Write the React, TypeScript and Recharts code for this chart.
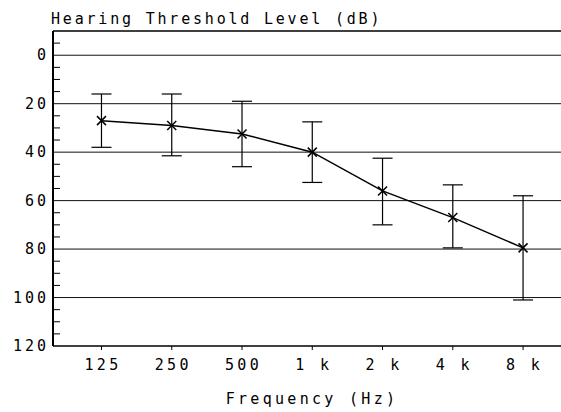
import React from 'react';
import { LineChart, Line, XAxis, YAxis, ErrorBar, ReferenceLine } from 'recharts';

const freqLabels = ['125', '250', '500', '1 k', '2 k', '4 k', '8 k'];
const meanDb = [27, 29, 32.5, 40, 56, 67, 79.5];
const upperDb = [16, 16, 19, 27.5, 42.5, 53.5, 58];
const lowerDb = [38, 41.5, 46, 52.5, 70, 79.5, 101];
const xTicks = [0, 1, 2, 3, 4, 5, 6];
const yTicks = [-10, -5, 0, 5, 10, 15, 20, 25, 30, 35, 40, 45, 50, 55, 60, 65, 70, 75, 80, 85, 90, 95, 100, 105, 110, 115, 120];
const gridLevels = [0, 20, 40, 60, 80, 100];
const topLevel = -10;

const data = freqLabels.map((f, i) => ({
  idx: i,
  freq: f,
  mean: meanDb[i],
  err: [meanDb[i] - upperDb[i], lowerDb[i] - meanDb[i]],
}));

const FONT = "'DejaVu Sans Mono', monospace";

const YTick = (props: any) => {
  const { x, y, payload } = props;
  const v = payload.value;
  const isMajor = v % 20 === 0;
  return (
    <g>
      {!isMajor && v !== -10 && (
        <line x1={x} x2={x + 7} y1={y} y2={y} stroke="#000" strokeWidth={1} />
      )}
      {isMajor && v >= 0 && (
        <text x={x - 4} y={y + 5} textAnchor="end" fontFamily={FONT} fontSize={15} letterSpacing={3} fill="#000">
          {v}
        </text>
      )}
    </g>
  );
};

const XTick = (props: any) => {
  const { x, y, payload } = props;
  return (
    <g>
      <line x1={x} x2={x} y1={y} y2={y + 4} stroke="#000" strokeWidth={1} />
      <text x={x + 1.5} y={y + 24} textAnchor="middle" fontFamily={FONT} fontSize={15} letterSpacing={3.3} fill="#000">
        {freqLabels[payload.value]}
      </text>
    </g>
  );
};

const XDot = (props: any) => {
  const { cx, cy, index } = props;
  if (cx == null || cy == null) return null;
  const s = 4.5;
  return (
    <g key={`dot-${index}`}>
      <line x1={cx - s} y1={cy - s} x2={cx + s} y2={cy + s} stroke="#000" strokeWidth={1.5} />
      <line x1={cx - s} y1={cy + s} x2={cx + s} y2={cy - s} stroke="#000" strokeWidth={1.5} />
    </g>
  );
};

const TitleLabel = (props: any) => {
  const vb = props.viewBox || {};
  return (
    <text x={vb.x + vb.width - 2} y={vb.y - 7} textAnchor="start" fontFamily={FONT} fontSize={15} letterSpacing={2.8} fill="#000">
      Hearing Threshold Level (dB)
    </text>
  );
};

const FreqLabel = (props: any) => {
  const vb = props.viewBox || {};
  return (
    <text x={vb.x + vb.width / 2 + 5} y={vb.y + 58} textAnchor="middle" fontFamily={FONT} fontSize={15} letterSpacing={3.3} fill="#000">
      Frequency (Hz)
    </text>
  );
};

export default function App() {
  return (
    <div style={{ position: 'absolute', left: 0, top: 0, width: 561, height: 412, background: '#fff' }}>
      <LineChart width={561} height={412} data={data} margin={{ top: 31, right: 0, bottom: 36, left: 0 }}>
        <XAxis
          dataKey="idx"
          type="number"
          domain={[-0.69, 6.54]}
          allowDataOverflow
          ticks={xTicks}
          interval={0}
          tickSize={0}
          tickMargin={0}
          tickLine={false}
          tick={XTick}
          axisLine={{ stroke: '#000', strokeWidth: 1.5 }}
          height={30}
          label={FreqLabel}
        />
        <YAxis
          type="number"
          domain={[-10, 120]}
          reversed
          allowDataOverflow
          ticks={yTicks}
          interval={0}
          tickSize={0}
          tickMargin={0}
          tickLine={false}
          tick={YTick}
          axisLine={{ stroke: '#000', strokeWidth: 2 }}
          width={53}
          label={TitleLabel}
        />
        <ReferenceLine y={topLevel} stroke="#000" strokeWidth={1.5} ifOverflow="visible" />
        {gridLevels.map((g) => (
          <ReferenceLine key={g} y={g} stroke="#111" strokeWidth={1} />
        ))}
        <Line
          dataKey="mean"
          stroke="#000"
          strokeWidth={1.5}
          dot={XDot}
          activeDot={false}
          isAnimationActive={false}
        >
          <ErrorBar dataKey="err" direction="y" width={10} stroke="#000" strokeWidth={1.2} isAnimationActive={false} />
        </Line>
      </LineChart>
    </div>
  );
}
